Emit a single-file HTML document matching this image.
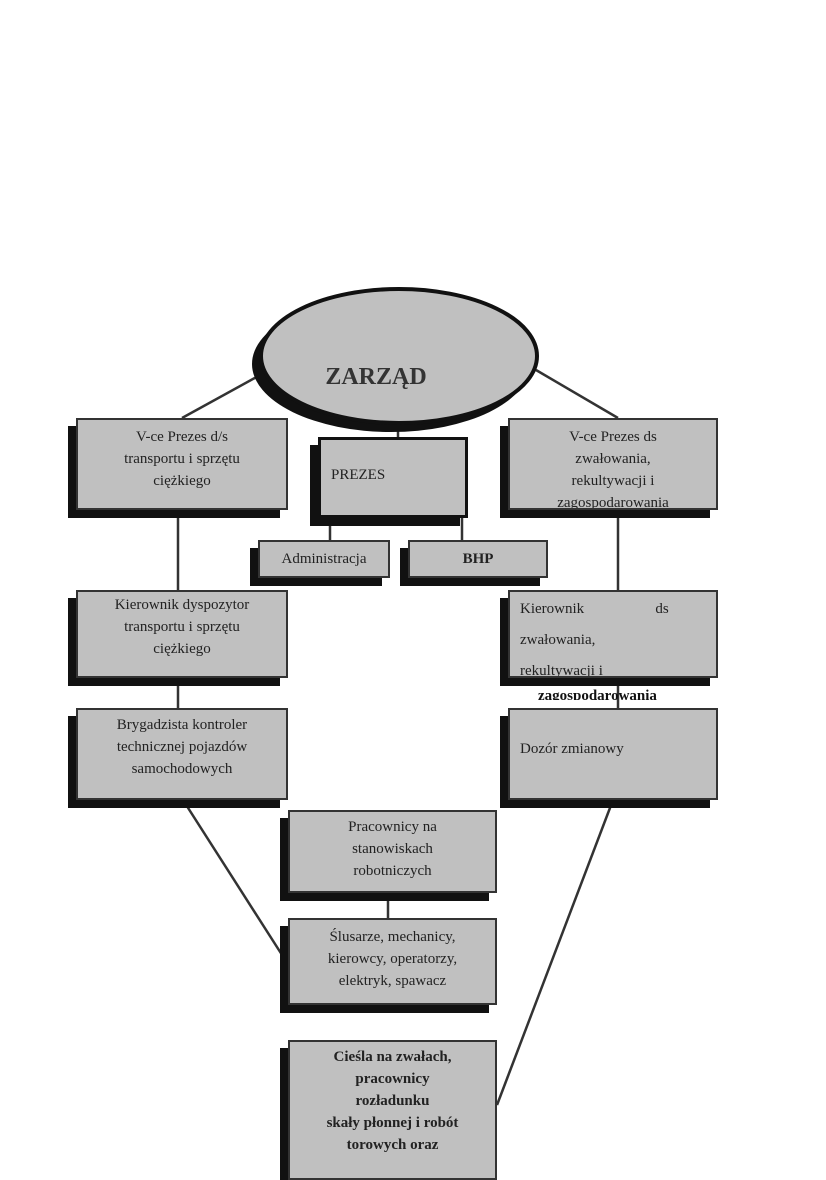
<!DOCTYPE html>
<html><head><meta charset="utf-8"><style>
body{margin:0;width:826px;height:1169px;background:#fff;position:relative;overflow:hidden;font-family:"Liberation Serif",serif;color:#222}
.b{position:absolute;background:#c0c0c0;border:2px solid #333;box-shadow:-8px 8px 0 #111;box-sizing:border-box;font-size:15px;line-height:22px;text-align:center;padding-top:6px;overflow:hidden}
svg{position:absolute;left:0;top:0}
</style></head><body>
<svg width="826" height="1169">
<g stroke="#333" stroke-width="2.5" fill="none">
<line x1="262" y1="374" x2="182" y2="418"/>
<line x1="536" y1="370" x2="618" y2="418"/>
<line x1="178" y1="510" x2="178" y2="708"/>
<line x1="618" y1="510" x2="618" y2="708"/>
<line x1="183" y1="800" x2="284" y2="958"/>
<line x1="613" y1="800" x2="497" y2="1105"/>
<line x1="388" y1="893" x2="388" y2="918"/>
<line x1="398" y1="425" x2="398" y2="440"/>
<line x1="330" y1="515" x2="330" y2="540"/>
<line x1="462" y1="515" x2="462" y2="540"/>
</g>
<ellipse cx="391" cy="364" rx="139" ry="68" fill="#111"/>
<ellipse cx="399" cy="356" rx="138" ry="67" fill="#c0c0c0" stroke="#111" stroke-width="4"/>
<text x="376" y="384" font-family="Liberation Serif" font-weight="bold" font-size="24" fill="#333" text-anchor="middle">ZARZĄD</text>
</svg>
<div class="b" style="left:76px;top:418px;width:212px;height:92px">V-ce Prezes d/s<br>transportu i sprzętu<br>ciężkiego</div>
<div class="b" style="left:318px;top:437px;width:150px;height:81px;text-align:left;padding:24px 10px;border:3px solid #111">PREZES</div>
<div class="b" style="left:508px;top:418px;width:210px;height:92px">V-ce Prezes ds<br>zwałowania,<br>rekultywacji i<br>zagospodarowania</div>
<div class="b" style="left:258px;top:540px;width:132px;height:38px">Administracja</div>
<div class="b" style="left:408px;top:540px;width:140px;height:38px;font-weight:bold">BHP</div>
<div class="b" style="left:76px;top:590px;width:212px;height:88px;padding-top:2px">Kierownik dyspozytor<br>transportu i sprzętu<br>ciężkiego</div>
<div class="b" style="left:508px;top:590px;width:210px;height:88px;text-align:left;padding:2px 10px;line-height:31px">Kierownik &nbsp;&nbsp;&nbsp;&nbsp;&nbsp;&nbsp;&nbsp;&nbsp;&nbsp;&nbsp;&nbsp;&nbsp;&nbsp;&nbsp;&nbsp;&nbsp;&nbsp;&nbsp;ds<br>zwałowania,<br>rekultywacji i</div>
<div style="position:absolute;left:538px;top:688px;font-size:15px;font-weight:bold;color:#111;line-height:16px;height:12px;overflow:hidden">zagospodarowania</div>
<div class="b" style="left:76px;top:708px;width:212px;height:92px;padding-top:4px">Brygadzista kontroler<br>technicznej pojazdów<br>samochodowych</div>
<div class="b" style="left:508px;top:708px;width:210px;height:92px;text-align:left;padding:28px 10px">Dozór zmianowy</div>
<div class="b" style="left:288px;top:810px;width:209px;height:83px;padding-top:4px">Pracownicy na<br>stanowiskach<br>robotniczych</div>
<div class="b" style="left:288px;top:918px;width:209px;height:87px;padding-top:6px">Ślusarze, mechanicy,<br>kierowcy, operatorzy,<br>elektryk, spawacz</div>
<div class="b" style="left:288px;top:1040px;width:209px;height:140px;font-weight:bold;padding-top:4px">Cieśla na zwałach,<br>pracownicy<br>rozładunku<br>skały płonnej i robót<br>torowych oraz</div>
</body></html>
